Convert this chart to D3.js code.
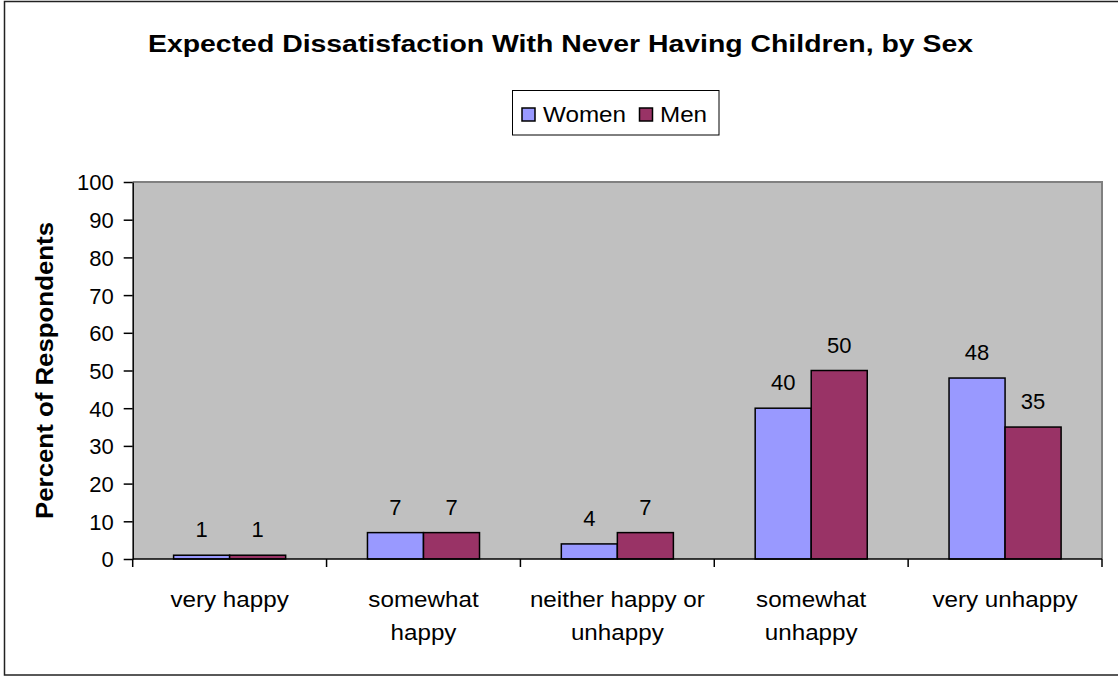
<!DOCTYPE html>
<html>
<head>
<meta charset="utf-8">
<script src="https://cdn.jsdelivr.net/npm/d3@7"></script>
<style>
  html, body { margin: 0; padding: 0; background: #fff; overflow: hidden; }
  svg { display: block; }
  svg text { font-family: Arial, "Liberation Sans", sans-serif; fill: #000; }
</style>
</head>
<body>
<svg id="chart" width="1118" height="677"></svg>
<script>
// Response categories (x axis), one line per array entry
const categories = [
  ["very happy"],
  ["somewhat", "happy"],
  ["neither happy or", "unhappy"],
  ["somewhat", "unhappy"],
  ["very unhappy"]
];
const seriesNames = ["Women", "Men"];
const women = [1, 7, 4, 40, 48];
const men = [1, 7, 7, 50, 35];
const yTicks = [0, 10, 20, 30, 40, 50, 60, 70, 80, 90, 100];

const colors = { Women: "#9999FF", Men: "#993366" };

const svg = d3.select("#chart");
const W = 1118, H = 677;

// widen glyph runs slightly so text spans the same width as the original rendering
function widen(sel, factor) {
  sel.each(function () {
    const len = this.getComputedTextLength();
    d3.select(this).attr("textLength", len * factor).attr("lengthAdjust", "spacingAndGlyphs");
  });
}
function fitTo(sel, width) {
  sel.attr("textLength", width).attr("lengthAdjust", "spacingAndGlyphs");
}

// outer frame
svg.append("rect")
  .attr("x", 4.5).attr("y", 1.5)
  .attr("width", W + 10).attr("height", 673.5)
  .attr("fill", "#fff").attr("stroke", "#222").attr("stroke-width", 1.5);

const plot = { left: 132.7, right: 1102, top: 182, bottom: 559 };

const x0 = d3.scaleBand()
  .domain(d3.range(categories.length))
  .range([plot.left, plot.right])
  .paddingInner(0).paddingOuter(0);
const x1 = d3.scaleBand()
  .domain(seriesNames)
  .range([0, x0.bandwidth()])
  .paddingInner(0)
  .paddingOuter(0.73);
const y = d3.scaleLinear().domain([0, 100]).range([plot.bottom, plot.top]);

// plot area background
svg.append("rect")
  .attr("x", plot.left).attr("y", plot.top)
  .attr("width", plot.right - plot.left).attr("height", plot.bottom - plot.top)
  .attr("fill", "#C0C0C0");
svg.append("path")
  .attr("d", `M${plot.left},${plot.top}H${plot.right}V${plot.bottom}`)
  .attr("fill", "none").attr("stroke", "#808080").attr("stroke-width", 2);

// bars
const data = seriesNames.map(s => ({ name: s, values: s === "Women" ? women : men }));
const groups = svg.append("g");
data.forEach(s => {
  s.values.forEach((v, i) => {
    groups.append("rect")
      .attr("x", x0(i) + x1(s.name))
      .attr("y", y(v))
      .attr("width", x1.bandwidth())
      .attr("height", y(0) - y(v))
      .attr("fill", colors[s.name])
      .attr("stroke", "#000").attr("stroke-width", 1.5);
    groups.append("text")
      .attr("x", x0(i) + x1(s.name) + x1.bandwidth() / 2)
      .attr("y", y(v) - 18)
      .attr("text-anchor", "middle")
      .style("font-size", "22px")
      .text(v);
  });
});

// y axis
const yAxis = svg.append("g")
  .attr("transform", `translate(${plot.left},0)`)
  .call(d3.axisLeft(y).tickValues(yTicks).tickSize(9).tickPadding(10).tickSizeOuter(0));
yAxis.select(".domain").attr("stroke", "#000").attr("stroke-width", 1.5);
yAxis.selectAll(".tick line").attr("stroke", "#000").attr("stroke-width", 1.5);
yAxis.selectAll(".tick text")
  .attr("fill", "#000")
  .style("font-family", "Arial, 'Liberation Sans', sans-serif")
  .style("font-size", "22px")
  .attr("dy", "0.36em");

// x axis line with ticks at category boundaries
svg.append("line")
  .attr("x1", plot.left).attr("x2", plot.right)
  .attr("y1", plot.bottom).attr("y2", plot.bottom)
  .attr("stroke", "#000").attr("stroke-width", 1.5);
const bounds = d3.range(categories.length + 1).map(i => i < categories.length ? x0(i) : x0.range()[1]);
svg.append("g").selectAll("line").data(bounds).join("line")
  .attr("x1", d => d).attr("x2", d => d)
  .attr("y1", plot.bottom).attr("y2", plot.bottom + 8)
  .attr("stroke", "#000").attr("stroke-width", 1.5);

// category labels
const catText = svg.append("g").selectAll("text").data(categories).join("text")
  .attr("text-anchor", "middle")
  .style("font-size", "22px");
catText.each(function (lines, i) {
  const t = d3.select(this);
  lines.forEach((ln, j) => {
    t.append("tspan")
      .attr("x", x0(i) + x0.bandwidth() / 2)
      .attr("y", 607 + j * 33)
      .text(ln);
  });
});
catText.selectAll("tspan").each(function () {
  const len = this.getComputedTextLength();
  d3.select(this).attr("textLength", len * 1.1).attr("lengthAdjust", "spacingAndGlyphs");
});

// y axis title
const yTitle = svg.append("text")
  .attr("transform", `translate(53,${(plot.top + plot.bottom) / 2}) rotate(-90)`)
  .attr("text-anchor", "middle")
  .style("font-size", "23px").style("font-weight", "bold")
  .text("Percent of Respondents");
fitTo(yTitle, 297);

// chart title
const title = svg.append("text")
  .attr("x", 560.5).attr("y", 52)
  .attr("text-anchor", "middle")
  .style("font-size", "23px").style("font-weight", "bold")
  .text("Expected Dissatisfaction With Never Having Children, by Sex");
fitTo(title, 825);

// legend
const legend = svg.append("g");
legend.append("rect")
  .attr("x", 512.5).attr("y", 90.5).attr("width", 206.5).attr("height", 44.5)
  .attr("fill", "#fff").attr("stroke", "#000").attr("stroke-width", 1);
const legendItems = [
  { name: "Women", sx: 522, tx: 543, w: 83 },
  { name: "Men", sx: 639.5, tx: 660, w: 47 }
];
legendItems.forEach(d => {
  legend.append("rect")
    .attr("x", d.sx).attr("y", 108).attr("width", 13).attr("height", 13)
    .attr("fill", colors[d.name]).attr("stroke", "#000").attr("stroke-width", 1.5);
  const t = legend.append("text")
    .attr("x", d.tx).attr("y", 121.5)
    .style("font-size", "22px")
    .text(d.name);
  fitTo(t, d.w);
});
</script>
</body>
</html>
